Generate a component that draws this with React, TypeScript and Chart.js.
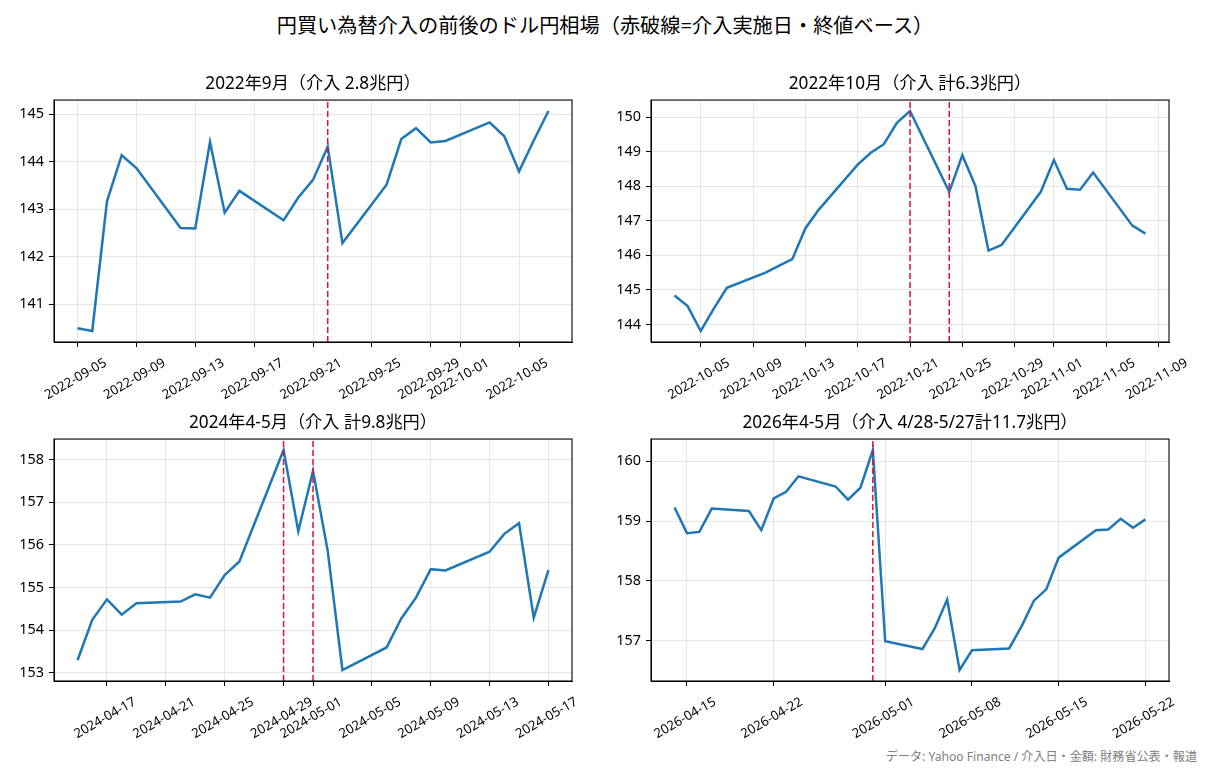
import React, { useEffect, useRef } from 'react';
import { Chart, registerables } from 'chart.js';

Chart.register(...registerables);

const SUPTITLE = '円買い為替介入の前後のドル円相場（赤破線=介入実施日・終値ベース）';
const FOOTER = 'データ: Yahoo Finance / 介入日・金額: 財務省公表・報道';

// ---- 2022年9月 ----
const title2022Sep = '2022年9月（介入 2.8兆円）';
const dates2022Sep = [
  '2022-09-05', '2022-09-06', '2022-09-07', '2022-09-08', '2022-09-09',
  '2022-09-12', '2022-09-13', '2022-09-14', '2022-09-15', '2022-09-16',
  '2022-09-19', '2022-09-20', '2022-09-21', '2022-09-22', '2022-09-23',
  '2022-09-26', '2022-09-27', '2022-09-28', '2022-09-29', '2022-09-30',
  '2022-10-03', '2022-10-04', '2022-10-05', '2022-10-06', '2022-10-07',
];
const values2022Sep = [
  140.5, 140.44, 143.17, 144.14, 143.87,
  142.61, 142.6, 144.42, 142.93, 143.39,
  142.77, 143.25, 143.62, 144.32, 142.29,
  143.52, 144.48, 144.71, 144.41, 144.44,
  144.83, 144.54, 143.8, 144.45, 145.07,
];
const interv2022Sep = ['2022-09-22'];
const xTicks2022Sep = [
  '2022-09-05', '2022-09-09', '2022-09-13', '2022-09-17', '2022-09-21',
  '2022-09-25', '2022-09-29', '2022-10-01', '2022-10-05',
];
const yTicks2022Sep = [141, 142, 143, 144, 145];

// ---- 2022年10月 ----
const title2022Oct = '2022年10月（介入 計6.3兆円）';
const dates2022Oct = [
  '2022-10-03', '2022-10-04', '2022-10-05', '2022-10-06', '2022-10-07',
  '2022-10-10', '2022-10-11', '2022-10-12', '2022-10-13', '2022-10-14',
  '2022-10-17', '2022-10-18', '2022-10-19', '2022-10-20', '2022-10-21',
  '2022-10-24', '2022-10-25', '2022-10-26', '2022-10-27', '2022-10-28',
  '2022-10-31', '2022-11-01', '2022-11-02', '2022-11-03', '2022-11-04',
  '2022-11-07', '2022-11-08',
];
const values2022Oct = [
  144.84, 144.53, 143.81, 144.46, 145.06,
  145.51, 145.7, 145.89, 146.78, 147.31,
  148.63, 148.97, 149.22, 149.84, 150.18,
  147.84, 148.9, 148.01, 146.14, 146.3,
  147.84, 148.76, 147.93, 147.9, 148.4,
  146.86, 146.63,
];
const interv2022Oct = ['2022-10-21', '2022-10-24'];
const xTicks2022Oct = [
  '2022-10-05', '2022-10-09', '2022-10-13', '2022-10-17', '2022-10-21',
  '2022-10-25', '2022-10-29', '2022-11-01', '2022-11-05', '2022-11-09',
];
const yTicks2022Oct = [144, 145, 146, 147, 148, 149, 150];

// ---- 2024年4-5月 ----
const title2024 = '2024年4-5月（介入 計9.8兆円）';
const dates2024 = [
  '2024-04-15', '2024-04-16', '2024-04-17', '2024-04-18', '2024-04-19',
  '2024-04-22', '2024-04-23', '2024-04-24', '2024-04-25', '2024-04-26',
  '2024-04-29', '2024-04-30', '2024-05-01', '2024-05-02', '2024-05-03',
  '2024-05-06', '2024-05-07', '2024-05-08', '2024-05-09', '2024-05-10',
  '2024-05-13', '2024-05-14', '2024-05-15', '2024-05-16', '2024-05-17',
];
const values2024 = [
  153.29, 154.24, 154.72, 154.36, 154.63,
  154.67, 154.84, 154.76, 155.29, 155.61,
  158.23, 156.32, 157.74, 155.86, 153.06,
  153.59, 154.27, 154.76, 155.43, 155.4,
  155.84, 156.26, 156.51, 154.29, 155.41,
];
const interv2024 = ['2024-04-29', '2024-05-01'];
const xTicks2024 = [
  '2024-04-17', '2024-04-21', '2024-04-25', '2024-04-29', '2024-05-01',
  '2024-05-05', '2024-05-09', '2024-05-13', '2024-05-17',
];
const yTicks2024 = [153, 154, 155, 156, 157, 158];

// ---- 2026年4-5月 ----
const title2026 = '2026年4-5月（介入 4/28-5/27計11.7兆円）';
const dates2026 = [
  '2026-04-14', '2026-04-15', '2026-04-16', '2026-04-17',
  '2026-04-20', '2026-04-21', '2026-04-22', '2026-04-23', '2026-04-24',
  '2026-04-27', '2026-04-28', '2026-04-29', '2026-04-30', '2026-05-01',
  '2026-05-04', '2026-05-05', '2026-05-06', '2026-05-07', '2026-05-08',
  '2026-05-11', '2026-05-12', '2026-05-13', '2026-05-14', '2026-05-15',
  '2026-05-18', '2026-05-19', '2026-05-20', '2026-05-21', '2026-05-22',
];
const values2026 = [
  159.23, 158.8, 158.82, 159.21,
  159.17, 158.85, 159.38, 159.49, 159.75,
  159.58, 159.36, 159.56, 160.19, 156.99,
  156.86, 157.21, 157.69, 156.51, 156.84,
  156.87, 157.24, 157.67, 157.86, 158.39,
  158.85, 158.86, 159.04, 158.89, 159.03,
];
const interv2026 = ['2026-04-30'];
const xTicks2026 = ['2026-04-15', '2026-04-22', '2026-05-01', '2026-05-08', '2026-05-15', '2026-05-22'];
const yTicks2026 = [157, 158, 159, 160];

const FONT = '"Noto Sans", "Noto Sans CJK JP", sans-serif';
Chart.defaults.font.family = FONT;

const toDay = (s: string) => {
  const [y, m, d] = s.split('-').map(Number);
  return Date.UTC(y, m - 1, d) / 86400000;
};
const fmtDay = (v: number) => new Date(Math.round(v) * 86400000).toISOString().slice(0, 10);

const framePlugin = {
  id: 'frame',
  afterDraw(chart: any) {
    const { ctx, chartArea } = chart;
    const { left, top, right, bottom } = chartArea;
    ctx.save();
    ctx.strokeStyle = '#000';
    ctx.lineWidth = 1.1;
    ctx.strokeRect(left, top, right - left, bottom - top);
    ctx.restore();
  },
};

type PanelProps = {
  title: string;
  dates: string[];
  values: number[];
  interv: string[];
  xTicks: string[];
  yTicks: number[];
  left: number;
  top: number;
  width: number;
  height: number;
  yAxisWidth: number;
  padRight: number;
};

function Panel(p: PanelProps) {
  const ref = useRef<HTMLCanvasElement | null>(null);
  useEffect(() => {
    if (!ref.current) return;
    const xs = p.dates.map(toDay);
    const xMinD = Math.min(...xs);
    const xMaxD = Math.max(...xs);
    const xm = (xMaxD - xMinD) * 0.05;
    const yMinD = Math.min(...p.values);
    const yMaxD = Math.max(...p.values);
    const ym = (yMaxD - yMinD) * 0.05;
    const yMin = yMinD - ym;
    const yMax = yMaxD + ym;
    const gridColor = '#e6e6e6';
    const chart = new Chart(ref.current, {
      type: 'line',
      data: {
        datasets: [
          ...p.interv.map((d) => ({
            data: [
              { x: toDay(d), y: yMin },
              { x: toDay(d), y: yMax },
            ],
            borderColor: '#dc143c',
            borderWidth: 1.5,
            borderDash: [6, 3],
            pointRadius: 0,
            fill: false,
            order: 0,
          })),
          {
            data: xs.map((x, i) => ({ x, y: p.values[i] })),
            borderColor: '#1f77b4',
            borderWidth: 2.5,
            pointRadius: 0,
            tension: 0,
            fill: false,
            order: 1,
          },
        ],
      },
      options: {
        animation: false,
        responsive: false,
        maintainAspectRatio: false,
        events: [],
        layout: { padding: { left: 0, right: p.padRight, top: 0, bottom: 0 } },
        plugins: {
          legend: { display: false },
          tooltip: { enabled: false },
          title: {
            display: true,
            text: p.title,
            fullSize: false,
            color: '#000',
            font: { size: 17.2, weight: 'normal', family: FONT },
            padding: { top: 13.7, bottom: 5.7 },
          },
        },
        scales: {
          x: {
            type: 'linear',
            min: xMinD - xm,
            max: xMaxD + xm,
            afterBuildTicks: (s: any) => {
              s.ticks = p.xTicks.map((t) => ({ value: toDay(t) }));
            },
            afterFit: (s: any) => {
              s.height = p.height - 40 - 242;
            },
            ticks: {
              autoSkip: false,
              minRotation: 30,
              maxRotation: 30,
              labelOffset: 28,
              padding: 8,
              color: '#000',
              font: { size: 13.2, family: FONT },
              callback: (v: any) => fmtDay(Number(v)),
            },
            grid: {
              color: gridColor,
              lineWidth: 1,
              drawTicks: true,
              tickLength: 5,
              tickColor: '#000',
              tickWidth: 1,
            },
            border: { display: true, color: '#000', width: 1 },
          },
          y: {
            type: 'linear',
            min: yMin,
            max: yMax,
            afterBuildTicks: (s: any) => {
              s.ticks = p.yTicks.map((t) => ({ value: t }));
            },
            afterFit: (s: any) => {
              s.width = p.yAxisWidth;
            },
            ticks: {
              padding: 5,
              color: '#000',
              font: { size: 14.4, family: FONT },
              callback: (v: any) => String(v),
            },
            grid: {
              color: gridColor,
              lineWidth: 1,
              drawTicks: true,
              tickLength: 5,
              tickColor: '#000',
              tickWidth: 1,
            },
            border: { display: true, color: '#000', width: 1 },
          },
        },
      } as any,
      plugins: [framePlugin],
    });
    return () => chart.destroy();
  }, []);
  return (
    <canvas
      ref={ref}
      width={p.width}
      height={p.height}
      style={{ position: 'absolute', left: p.left, top: p.top, width: p.width, height: p.height }}
    />
  );
}

export default function App() {
  const W = 605;
  const H = 341;
  return (
    <div
      style={{
        position: 'absolute',
        left: 0,
        top: 0,
        width: 1210,
        height: 770,
        background: '#fff',
        overflow: 'hidden',
        fontFamily: FONT,
      }}
    >
      <div
        style={{
          position: 'absolute',
          left: 5,
          top: 11,
          width: 1200,
          textAlign: 'center',
          fontSize: 20.2,
          lineHeight: '28px',
          color: '#000',
          whiteSpace: 'nowrap',
        }}
      >
        {SUPTITLE}
      </div>
      <Panel title={title2022Sep} dates={dates2022Sep} values={values2022Sep} interv={interv2022Sep}
        xTicks={xTicks2022Sep} yTicks={yTicks2022Sep} left={0} top={60} width={W} height={H}
        yAxisWidth={54} padRight={33} />
      <Panel title={title2022Oct} dates={dates2022Oct} values={values2022Oct} interv={interv2022Oct}
        xTicks={xTicks2022Oct} yTicks={yTicks2022Oct} left={605} top={60} width={W} height={H}
        yAxisWidth={46} padRight={41} />
      <Panel title={title2024} dates={dates2024} values={values2024} interv={interv2024}
        xTicks={xTicks2024} yTicks={yTicks2024} left={0} top={399} width={W} height={H}
        yAxisWidth={54} padRight={33} />
      <Panel title={title2026} dates={dates2026} values={values2026} interv={interv2026}
        xTicks={xTicks2026} yTicks={yTicks2026} left={605} top={399} width={W} height={H}
        yAxisWidth={46} padRight={41} />
      <div
        style={{
          position: 'absolute',
          right: 13,
          top: 749,
          fontSize: 12.1,
          lineHeight: '16px',
          color: '#808080',
          whiteSpace: 'nowrap',
        }}
      >
        {FOOTER}
      </div>
    </div>
  );
}
